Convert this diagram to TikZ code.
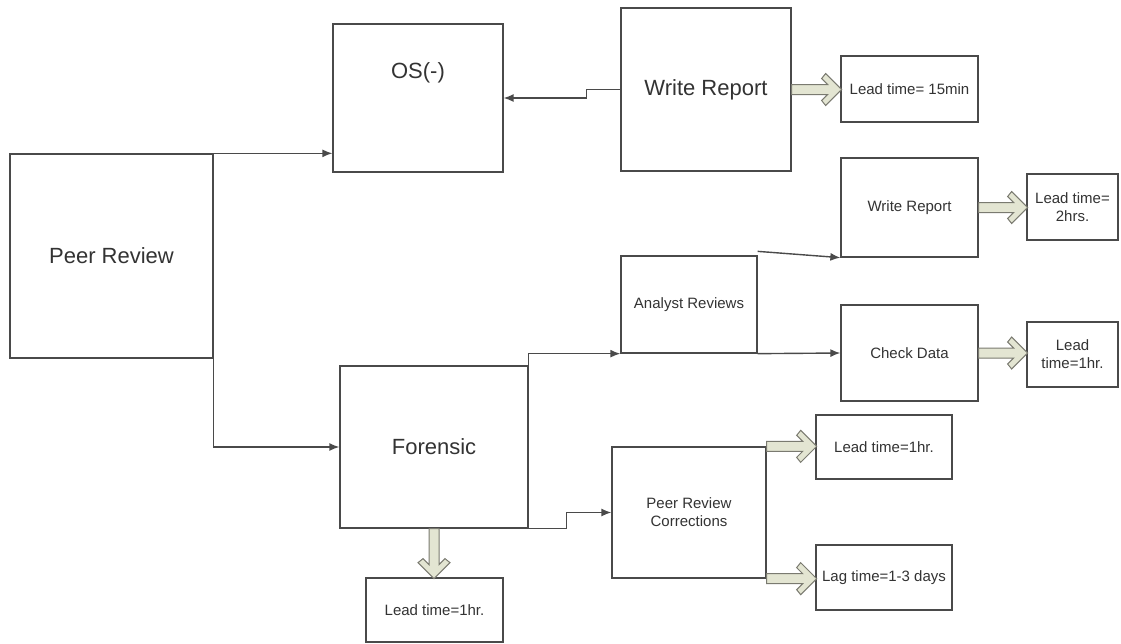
\documentclass[tikz,border=0pt]{standalone}
\usepackage{fontspec}
\setmainfont{Liberation Sans}
\usetikzlibrary{arrows.meta,calc}
\definecolor{linec}{HTML}{4A4A4A}
\definecolor{textc}{HTML}{333333}
\definecolor{hfill}{HTML}{E3E5D2}
\definecolor{hdraw}{HTML}{7A7A70}
\tikzset{
  box/.style={draw=linec, line width=1.3pt, inner sep=0pt, align=center, text=textc,
    font=\fontsize{15}{18}\selectfont},
  big/.style={font=\fontsize{22}{26}\selectfont},
  conn/.style={draw=linec, line width=1.4pt, -{Latex[length=10pt,width=8pt]}},
  harrow/.style={fill=hfill, draw=hdraw, line width=1pt, line join=miter}
}
\newcommand{\hollowarrow}[3]{%
  \begin{scope}[shift={(#1)}, rotate=#3]
    \filldraw[harrow] (0,5) -- (#2-14,5) -- (#2-20,11) -- (#2-16,16) -- (#2,0)
      -- (#2-16,-16) -- (#2-20,-11) -- (#2-14,-5) -- (0,-5) -- cycle;
  \end{scope}}
\begin{document}
\begin{tikzpicture}[x=1pt,y=-1pt]
\useasboundingbox[fill=white] (0,0) rectangle (1121,643);

\node[box,big,minimum width=203pt,minimum height=204pt] (PR) at (111.5,256) {Peer Review};
\node[box,big,minimum width=170pt,minimum height=148pt,
      label={[yshift=25pt,text=textc,font=\fontsize{22}{26}\selectfont]center:OS(-)}] (OS) at (418,98) {};
\node[box,big,minimum width=170pt,minimum height=163pt] (WR1) at (706,89.5) {Write Report};
\node[box,minimum width=137pt,minimum height=66pt] (L15) at (909.5,89) {Lead time= 15min};
\node[box,minimum width=137pt,minimum height=99pt] (WR2) at (909.5,207.5) {Write Report};
\node[box,minimum width=91pt,minimum height=66pt] (L2) at (1072.5,207) {Lead time=\\2hrs.};
\node[box,minimum width=136pt,minimum height=97pt] (AR) at (689,304.5) {Analyst Reviews};
\node[box,minimum width=137pt,minimum height=96pt] (CD) at (909.5,353) {Check Data};
\node[box,minimum width=91pt,minimum height=65pt] (L1r) at (1072.5,354.5) {Lead\\time=1hr.};
\node[box,big,minimum width=188pt,minimum height=162pt] (F) at (434,447) {Forensic};
\node[box,minimum width=154pt,minimum height=131pt] (PRC) at (689,512.5) {Peer Review\\Corrections};
\node[box,minimum width=136pt,minimum height=64pt] (L1m) at (884,447) {Lead time=1hr.};
\node[box,minimum width=136pt,minimum height=65pt] (LAG) at (884,577.5) {Lag time=1-3 days};
\node[box,minimum width=137pt,minimum height=64pt] (L1b) at (434.5,610) {Lead time=1hr.};

% connectors
\draw[conn] (PR.north east) -- (PR.north east -| OS.west);
\draw[conn] (PR.south east) |- (F.west);
\draw[conn] (WR1.west) -- ($(WR1.west)+(-34,0)$) |- (OS.east);
\draw[conn] (F.north east) |- (AR.south west);
\draw[conn] (AR.south east) -- (CD.west);
\draw[conn] ($(AR.north east)+(0,-4)$) -- (WR2.south west);
\draw[conn] (F.south east) -- ($(F.south east)+(38,0)$) |- (PRC.west);

% hollow arrows
\hollowarrow{WR1.east}{50}{0}
\hollowarrow{WR2.east}{49}{0}
\hollowarrow{CD.east}{49}{0}
\hollowarrow{F.south}{50}{-90}
\hollowarrow{PRC.north east}{50}{0}
\hollowarrow{PRC.south east}{50}{0}
\end{tikzpicture}
\end{document}
